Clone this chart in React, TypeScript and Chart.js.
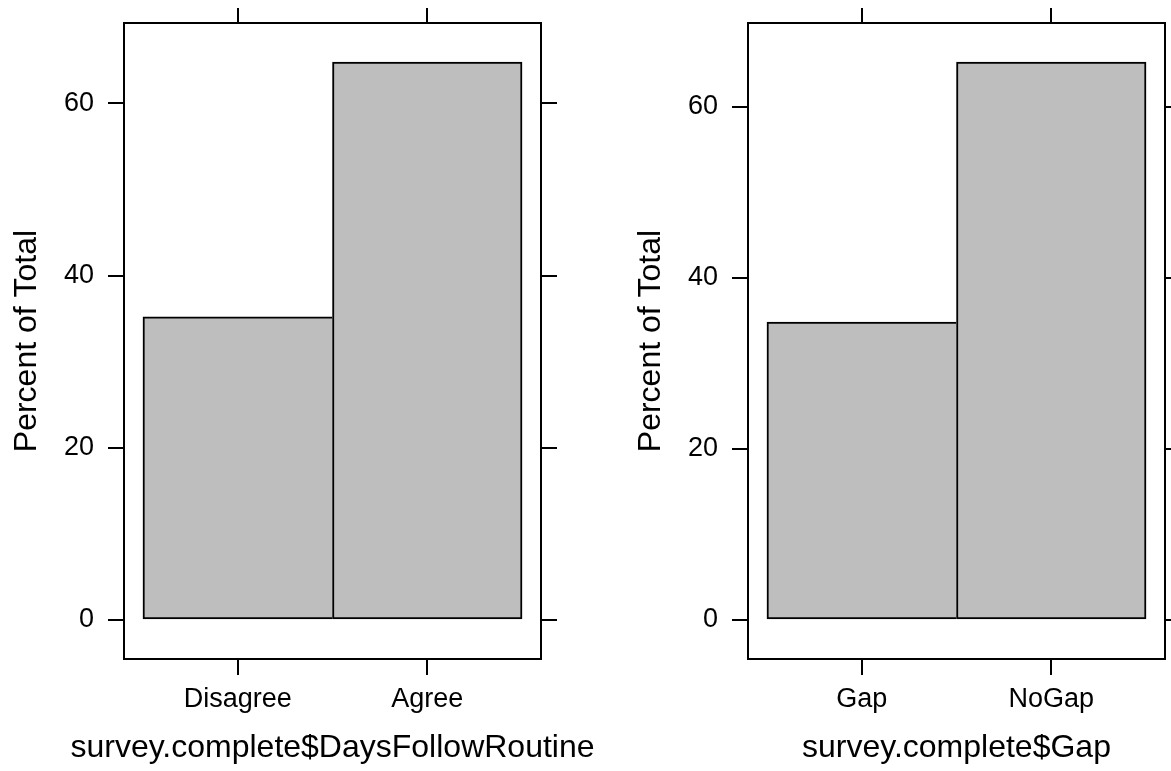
import React, { useEffect, useRef } from "react";
import { Chart, registerables } from "chart.js";

Chart.register(...registerables);

// ---- data ----
const panel1Categories = ["Disagree", "Agree"];
const panel1Percent = [35.2, 64.8];
const panel1XLabel = "survey.complete$DaysFollowRoutine";

const panel2Categories = ["Gap", "NoGap"];
const panel2Percent = [34.8, 65.2];
const panel2XLabel = "survey.complete$Gap";

const yLabel = "Percent of Total";
const yTickValues = [0, 20, 40, 60];

const FONT = "'Liberation Sans', Arial, Helvetica, sans-serif";
const BAR_FILL = "#BEBEBE";
const CANVAS_W = 624;
const CANVAS_H = 771;

// x-axis title drawn without the axis-width squeeze Chart.js applies
const xTitlePlugin = {
  id: "xTitle",
  afterDraw(chart: any, _args: any, opts: any) {
    const { ctx, chartArea } = chart;
    ctx.save();
    ctx.font = `32px ${FONT}`;
    ctx.fillStyle = "#000";
    ctx.textAlign = "center";
    ctx.textBaseline = "alphabetic";
    ctx.fillText(opts.text, (chartArea.left + chartArea.right) / 2, opts.baseline);
    ctx.restore();
  },
};

function makeConfig(categories: string[], values: number[], xLabel: string) {
  const maxV = Math.max(...values);
  const yMin = -0.07 * maxV;
  const yMax = maxV * 1.07;
  const xMin = 0.4;
  const xMax = categories.length + 0.6;
  const xTickValues = categories.map((_, i) => i + 1);

  const setYTicks = (s: any) => {
    s.ticks = yTickValues.map((v) => ({ value: v }));
  };
  const setXTicks = (s: any) => {
    s.ticks = xTickValues.map((v) => ({ value: v }));
  };
  const noPad = (s: any) => {
    s.paddingTop = 0;
    s.paddingBottom = 0;
    s.paddingLeft = 0;
    s.paddingRight = 0;
  };
  const grid = {
    drawOnChartArea: false,
    drawTicks: true,
    color: "#000",
    lineWidth: 2,
    offset: false,
  };
  const border = { display: true, color: "#000", width: 2 };

  return {
    type: "bar" as const,
    data: {
      datasets: [
        {
          data: values.map((v, i) => ({ x: i + 1, y: v })),
          backgroundColor: BAR_FILL,
          borderColor: "#000",
          borderWidth: (ctx: any) =>
            ctx.dataIndex < values.length - 1
              ? { top: 2, left: 2, bottom: 2, right: 0 }
              : 2,
          borderSkipped: false,
          barPercentage: 1,
          categoryPercentage: 1,
          xAxisID: "x",
          yAxisID: "y",
        },
      ],
    },
    plugins: [xTitlePlugin],
    options: {
      responsive: false,
      animation: false as const,
      devicePixelRatio: 1,
      layout: { padding: 0 },
      plugins: {
        legend: { display: false },
        tooltip: { enabled: false },
        xTitle: { text: xLabel, baseline: 757 },
      },
      scales: {
        x: {
          type: "linear" as const,
          position: "bottom" as const,
          offset: false,
          min: xMin,
          max: xMax,
          afterBuildTicks: setXTicks,
          afterFit: (s: any) => {
            s.height = 112;
            noPad(s);
          },
          grid: { ...grid, tickLength: 16 },
          border,
          ticks: {
            color: "#000",
            font: { family: FONT, size: 27 },
            padding: 8,
            maxRotation: 0,
            autoSkip: false,
            callback: (v: any) => categories[Math.round(Number(v)) - 1] ?? "",
          },
        },
        x2: {
          type: "linear" as const,
          position: "top" as const,
          offset: false,
          min: xMin,
          max: xMax,
          afterBuildTicks: setXTicks,
          afterFit: (s: any) => {
            s.height = 23;
            noPad(s);
          },
          grid: { ...grid, tickLength: 15 },
          border,
          ticks: { display: false },
        },
        y: {
          type: "linear" as const,
          position: "left" as const,
          min: yMin,
          max: yMax,
          afterBuildTicks: setYTicks,
          afterFit: (s: any) => {
            s.width = 124;
            noPad(s);
          },
          grid: { ...grid, tickLength: 16 },
          border,
          ticks: {
            color: "#000",
            font: { family: FONT, size: 27 },
            padding: 14,
            autoSkip: false,
          },
          title: {
            display: true,
            text: yLabel,
            color: "#000",
            font: { family: FONT, size: 32 },
            padding: { top: 8, bottom: 0 },
          },
        },
        y2: {
          type: "linear" as const,
          position: "right" as const,
          min: yMin,
          max: yMax,
          afterBuildTicks: setYTicks,
          afterFit: (s: any) => {
            s.width = CANVAS_W - 541;
            noPad(s);
          },
          grid: { ...grid, tickLength: 16 },
          border,
          ticks: { display: false },
        },
      },
    },
  };
}

function Panel(props: {
  left: number;
  categories: string[];
  values: number[];
  xLabel: string;
}) {
  const ref = useRef<HTMLCanvasElement | null>(null);
  useEffect(() => {
    if (!ref.current) return;
    const chart = new Chart(
      ref.current,
      makeConfig(props.categories, props.values, props.xLabel) as any
    );
    return () => chart.destroy();
  }, []);
  return (
    <canvas
      ref={ref}
      width={CANVAS_W}
      height={CANVAS_H}
      style={{
        position: "absolute",
        left: props.left,
        top: 0,
        width: CANVAS_W,
        height: CANVAS_H,
      }}
    />
  );
}

export default function App() {
  return (
    <div
      style={{
        position: "absolute",
        left: 0,
        top: 0,
        width: 1171,
        height: 771,
        overflow: "hidden",
        background: "#fff",
      }}
    >
      <Panel
        left={0}
        categories={panel1Categories}
        values={panel1Percent}
        xLabel={panel1XLabel}
      />
      <Panel
        left={624}
        categories={panel2Categories}
        values={panel2Percent}
        xLabel={panel2XLabel}
      />
    </div>
  );
}
